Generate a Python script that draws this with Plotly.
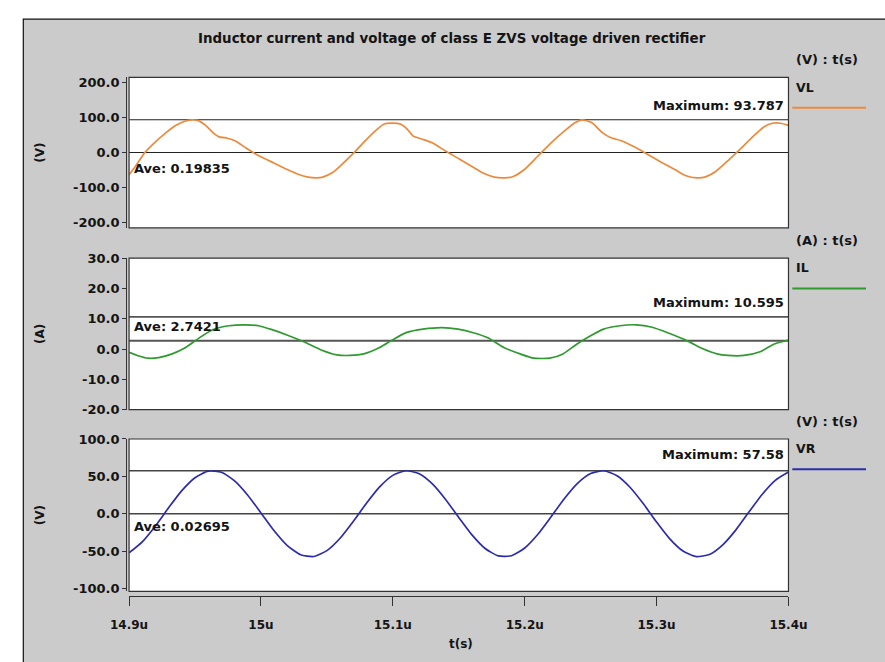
import plotly.graph_objects as go

# ---------------- data ----------------
title_text = "Inductor current and voltage of class E ZVS voltage driven rectifier"

t_vl = [14.9, 14.9049, 14.9119, 14.9192, 14.9274, 14.9356, 14.9417, 14.9471, 14.952, 14.9581,
        14.9642, 14.9683, 14.9745, 14.9806, 14.9888, 14.997, 15.0072, 15.0174, 15.0277, 15.0358,
        15.042, 15.0469, 15.0543, 15.0624, 15.0706, 15.0788, 15.087, 15.0931, 15.0993, 15.1054,
        15.1107, 15.1156, 15.1218, 15.1299, 15.1402, 15.1504, 15.1606, 15.1688, 15.177, 15.1852,
        15.1913, 15.1995, 15.2097, 15.22, 15.2302, 15.2384, 15.2433, 15.2507, 15.2589, 15.265,
        15.2732, 15.2834, 15.2936, 15.3038, 15.3141, 15.3223, 15.3304, 15.3366, 15.3448, 15.355,
        15.3632, 15.3734, 15.3816, 15.3877, 15.3939, 15.4]
vl = [-63, -39, 0, 28, 55, 78, 89, 93.8, 92, 78,
      55, 45, 41, 33, 13, -6, -25, -44, -61, -70,
      -72, -70, -57, -30, 0, 33, 63, 81, 84, 82,
      68, 47, 39, 28, 4, -18, -41, -59, -70, -72,
      -68, -49, -11, 28, 62, 86, 93.8, 86, 57, 43,
      34, 16, -6, -28, -49, -66, -72, -70, -54, -20,
      9, 47, 74, 84, 84, 78]

t_il = [14.9, 14.9061, 14.9143, 14.9225, 14.9327, 14.9429, 14.9532, 14.9634, 14.9757, 14.9880,
        14.9982, 15.0084, 15.0207, 15.0330, 15.0452, 15.0575, 15.0677, 15.0779, 15.0900, 15.1004,
        15.1106, 15.1229, 15.1372, 15.1495, 15.1617, 15.1720, 15.1842, 15.1965, 15.2068, 15.2190,
        15.2290, 15.2394, 15.2496, 15.2598, 15.2721, 15.2844, 15.2967, 15.3089, 15.3233, 15.3356,
        15.3458, 15.3540, 15.3663, 15.3785, 15.3888, 15.4]
il = [-1.1, -2.1, -3.0, -2.8, -1.6, 0.5, 3.7, 6.4, 7.7, 8.0,
      7.7, 6.4, 4.5, 2.3, -0.2, -1.9, -2.1, -1.6, 0.5, 3.2,
      5.5, 6.6, 7.1, 6.6, 5.3, 3.7, 0.5, -1.6, -3.0, -3.0,
      -1.6, 1.6, 4.3, 6.6, 7.7, 8.0, 7.2, 5.3, 2.7, 0.0,
      -1.6, -2.1, -2.1, -0.9, 1.6, 3.0]

t_vr = [14.90, 14.91, 14.92, 14.93, 14.94, 14.95, 14.96, 14.97, 14.98, 14.99,
        15.00, 15.01, 15.02, 15.03, 15.04, 15.05, 15.06, 15.07, 15.08, 15.09,
        15.10, 15.11, 15.12, 15.13, 15.14, 15.15, 15.16, 15.17, 15.18, 15.19,
        15.20, 15.21, 15.22, 15.23, 15.24, 15.25, 15.26, 15.27, 15.28, 15.29,
        15.30, 15.31, 15.32, 15.33, 15.34, 15.35, 15.36, 15.37, 15.38, 15.39, 15.40]
vr = [-52.3, -37.6, -16.3, 8.0, 30.9, 48.2, 56.9, 55.5, 44.0, 24.8,
      1.1, -22.8, -42.6, -54.8, -57.2, -49.4, -32.8, -10.3, 14.0, 35.9,
      51.3, 57.5, 53.5, 39.9, 19.1, -5.0, -28.3, -46.5, -56.4, -56.2,
      -45.9, -27.5, -4.1, 20.0, 40.6, 53.8, 57.5, 50.8, 35.1, 13.2,
      -11.2, -33.6, -49.9, -57.3, -54.5, -41.9, -21.9, 2.2, 25.8, 44.7, 55.7]

names = ["VL", "IL", "VR"]
units = ["(V)", "(A)", "(V)"]
maxima = [93.787, 10.595, 57.58]
averages = [0.19835, 2.7421, 0.02695]
max_labels = ["Maximum: 93.787", "Maximum: 10.595", "Maximum: 57.58"]
ave_labels = ["Ave: 0.19835", "Ave: 2.7421", "Ave: 0.02695"]

yt1 = [-200, -100, 0, 100, 200]
yt1_lab = ["-200.0", "-100.0", "0.0", "100.0", "200.0"]
yt2 = [-20, -10, 0, 10, 20, 30]
yt2_lab = ["-20.0", "-10.0", "0.0", "10.0", "20.0", "30.0"]
yt3 = [-100, -50, 0, 50, 100]
yt3_lab = ["-100.0", "-50.0", "0.0", "50.0", "100.0"]
xt = [14.9, 15.0, 15.1, 15.2, 15.3, 15.4]
xt_lab = ["14.9u", "15u", "15.1u", "15.2u", "15.3u", "15.4u"]

# ---------------- style ----------------
W, H = 885, 662
def px(x): return x / W
def py(y): return 1 - y / H

colors = ["#EC8A3C", "#2F9A2F", "#2C2CAA"]
FONT = "DejaVu Sans, Verdana, sans-serif"
TXT = "#141414"
BG = "#CBCBCB"
BOX = "#333333"
line_cols = ["#222222", "#555555", "#444444"]
line_w = [1.1, 1.8, 1.4]

def F(size):
    return dict(family=FONT, size=size, color=TXT, weight="bold")

xdom = [px(115), px(804)]
ydoms = [[py(226), py(72)], [py(412), py(257)], [py(598), py(442)]]
yranges = [[-215, 215], [-20, 30], [-104, 100]]
yticks = [(yt1, yt1_lab), (yt2, yt2_lab), (yt3, yt3_lab)]
tops = [72, 257, 442]

fig = go.Figure()
series = [(t_vl, vl), (t_il, il), (t_vr, vr)]
for i, (tx, ty) in enumerate(series):
    sfx = "" if i == 0 else str(i + 1)
    fig.add_trace(go.Scatter(x=tx, y=ty, mode="lines", name=names[i],
                             line=dict(color=colors[i], width=1.7, shape="spline", smoothing=0.6),
                             xaxis="x" + sfx, yaxis="y" + sfx, showlegend=False, hoverinfo="skip"))

layout = dict(width=W, height=H, margin=dict(l=0, r=0, t=0, b=0),
              paper_bgcolor="white", plot_bgcolor="white", showlegend=False,
              font=F(13))
shapes = []
annots = []

# outer gray frame
shapes.append(dict(type="rect", xref="paper", yref="paper", x0=px(4.5), x1=1.05, y0=-0.05, y1=py(12.5),
                   fillcolor=BG, line=dict(color="#111111", width=1.2), layer="below"))

for i in range(3):
    sfx = "" if i == 0 else str(i + 1)
    xa = "xaxis" + sfx
    ya = "yaxis" + sfx
    xr = "x" + sfx
    yr = "y" + sfx
    if i < 2:
        layout[xa] = dict(domain=xdom, range=[14.9, 15.4], anchor=yr, visible=False,
                          showgrid=False, zeroline=False, fixedrange=True)
    else:
        layout[xa] = dict(domain=xdom, range=[14.9, 15.4], anchor="free", position=py(603),
                          showline=True, linecolor=BOX, linewidth=1, ticks="outside", ticklen=9,
                          tickcolor=BOX, tickvals=xt, ticktext=xt_lab, showgrid=False, zeroline=False,
                          ticklabelstandoff=8, tickfont=F(12), fixedrange=True)
    tv, tl = yticks[i]
    layout[ya] = dict(domain=ydoms[i], range=yranges[i], anchor="free", position=px(112),
                      showline=True, linecolor=BOX, linewidth=1, ticks="outside", ticklen=4,
                      tickcolor=BOX, tickvals=tv, ticktext=tl, showgrid=False, zeroline=False,
                      tickfont=F(13), fixedrange=True)
    # white plot box
    shapes.append(dict(type="rect", xref=xr + " domain", yref=yr + " domain", x0=0, x1=1, y0=0, y1=1,
                       fillcolor="white", line=dict(width=0), layer="below"))
    shapes.append(dict(type="rect", xref=xr + " domain", yref=yr + " domain", x0=0, x1=1, y0=0, y1=1,
                       fillcolor="rgba(0,0,0,0)", line=dict(color=BOX, width=1.2), layer="above"))
    # max / ave lines
    for val in (maxima[i], averages[i]):
        shapes.append(dict(type="line", xref=xr + " domain", yref=yr, x0=0, x1=1, y0=val, y1=val,
                           line=dict(color=line_cols[i], width=line_w[i]), layer="below"))
    # legend line on right
    shapes.append(dict(type="line", xref="paper", yref="paper", x0=px(808), x1=1.0,
                       y0=py(tops[i] + 31), y1=py(tops[i] + 31),
                       line=dict(color=colors[i], width=2)))
    # texts
    annots.append(dict(xref="paper", yref="paper", x=px(810), y=py(tops[i] - 18), text=units[i] + " : t(s)",
                       showarrow=False, xanchor="left", yanchor="middle", font=F(13)))
    annots.append(dict(xref="paper", yref="paper", x=px(810), y=py(tops[i] + 10), text=names[i],
                       showarrow=False, xanchor="left", yanchor="middle", font=F(12.5)))
    annots.append(dict(xref="paper", yref="paper", x=px(22), y=(ydoms[i][0] + ydoms[i][1]) / 2,
                       text=units[i], textangle=-90, showarrow=False, xanchor="center", yanchor="middle",
                       font=F(12)))

# max/ave labels
max_y = [101, 302, 458]
ave_y = [165, 327, 532]
for i in range(3):
    annots.append(dict(xref="paper", yref="paper", x=px(801), y=py(max_y[i]), text=max_labels[i],
                       showarrow=False, xanchor="right", yanchor="middle", font=F(13)))
    annots.append(dict(xref="paper", yref="paper", x=px(118), y=py(ave_y[i]), text=ave_labels[i],
                       showarrow=False, xanchor="left", yanchor="middle", font=F(13)))

annots.append(dict(xref="paper", yref="paper", x=px(452), y=py(32), text=title_text,
                   showarrow=False, xanchor="center", yanchor="middle", font=F(13.4)))
annots.append(dict(xref="paper", yref="paper", x=px(462), y=py(652), text="t(s)",
                   showarrow=False, xanchor="center", yanchor="middle", font=F(12)))

layout["shapes"] = shapes
layout["annotations"] = annots
fig.update_layout(**layout)
fig.write_html("out.html")
